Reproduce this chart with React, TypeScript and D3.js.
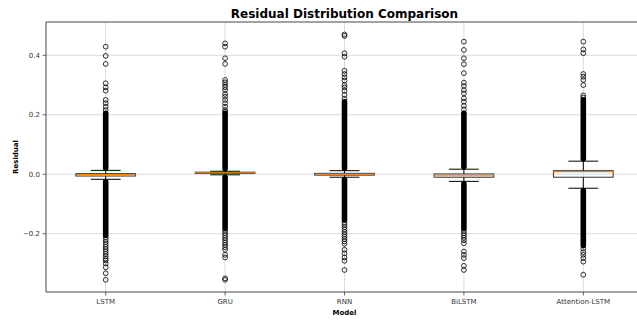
import React from "react";
import * as d3 from "d3";

const models = ["LSTM", "GRU", "RNN", "BiLSTM", "Attention-LSTM"];
const whiskerLow = [-0.017, -0.002, -0.010, -0.024, -0.047];
const q1 = [-0.006, 0.003, -0.003, -0.010, -0.010];
const median = [-0.001, 0.005, 0.000, -0.005, 0.009];
const q3 = [0.002, 0.007, 0.003, 0.001, 0.012];
const whiskerHigh = [0.013, 0.010, 0.012, 0.017, 0.044];

// continuous (overplotted) flier ranges
const denseUpperTop = [0.205, 0.205, 0.244, 0.205, 0.25];
const denseLowerBottom = [-0.205, -0.182, -0.154, -0.182, -0.24];

// individually visible fliers
const fliersLSTM = [0.429, 0.398, 0.371, 0.306, 0.292, 0.281, 0.250, 0.239, 0.227, 0.216,
  -0.212, -0.22, -0.228, -0.236, -0.244, -0.252, -0.26, -0.268, -0.276, -0.284, -0.29, -0.30, -0.313, -0.333, -0.355];
const fliersGRU = [0.440, 0.429, 0.390, 0.371, 0.317, 0.309, 0.300, 0.292, 0.283, 0.270, 0.261, 0.250, 0.239, 0.227, 0.216, 0.210,
  -0.19, -0.198, -0.206, -0.214, -0.222, -0.23, -0.238, -0.246, -0.254, -0.271, -0.280, -0.350, -0.355];
const fliersRNN = [0.470, 0.465, 0.407, 0.395, 0.348, 0.337, 0.326, 0.315, 0.300, 0.292, 0.281, 0.267, 0.253,
  -0.162, -0.17, -0.178, -0.186, -0.194, -0.202, -0.21, -0.218, -0.226, -0.234, -0.254, -0.266, -0.280, -0.291, -0.322];
const fliersBiLSTM = [0.446, 0.418, 0.390, 0.370, 0.340, 0.308, 0.297, 0.283, 0.272, 0.255, 0.244, 0.230, 0.218,
  -0.19, -0.198, -0.206, -0.214, -0.222, -0.232, -0.260, -0.271, -0.282, -0.308, -0.322];
const fliersAttention = [0.446, 0.420, 0.407, 0.337, 0.328, 0.317, 0.300, 0.265, 0.258,
  -0.25, -0.262, -0.271, -0.282, -0.294, -0.338];
const fliers = [fliersLSTM, fliersGRU, fliersRNN, fliersBiLSTM, fliersAttention];

const yTicks = [-0.2, 0.0, 0.2, 0.4];

const W = 637, H = 322;
const M = { left: 46, right: 643, top: 22, bottom: 292 };
const FONT = "'DejaVu Sans', sans-serif";

export default function App() {
  const x = d3.scaleLinear().domain([0.5, 5.5]).range([M.left, M.right]);
  const y = d3.scaleLinear().domain([-0.396, 0.512]).range([M.bottom, M.top]);
  const unit = x(1) - x(0);
  const boxW = unit * 0.5;
  const capW = boxW * 0.5;
  const r = 2.4;
  const sw = 0.8;

  return (
    <svg width={W} height={H} style={{ position: "absolute", left: 0, top: 0, background: "#fff" }}
      fontFamily={FONT}>
      <defs>
        <clipPath id="plot">
          <rect x={M.left} y={M.top} width={M.right - M.left} height={M.bottom - M.top} />
        </clipPath>
      </defs>
      {/* grid */}
      <g stroke="#dcdcdc" strokeWidth={1}>
        {yTicks.map((t) => (
          <line key={"gy" + t} x1={M.left} x2={M.right} y1={y(t)} y2={y(t)} />
        ))}
        {models.map((m, i) => (
          <line key={"gx" + m} x1={x(i + 1)} x2={x(i + 1)} y1={M.top} y2={M.bottom} />
        ))}
      </g>
      <g clipPath="url(#plot)">
        {models.map((m, i) => {
          const cx = x(i + 1);
          return (
            <g key={m}>
              {/* whiskers */}
              <line x1={cx} x2={cx} y1={y(q3[i])} y2={y(whiskerHigh[i])} stroke="#000" strokeWidth={1} />
              <line x1={cx} x2={cx} y1={y(q1[i])} y2={y(whiskerLow[i])} stroke="#000" strokeWidth={1} />
              {/* dense flier columns */}
              <line x1={cx} x2={cx} y1={y(whiskerHigh[i]) - r} y2={y(denseUpperTop[i])}
                stroke="#000" strokeWidth={2 * r + sw} strokeLinecap="round" />
              <line x1={cx} x2={cx} y1={y(whiskerLow[i]) + r} y2={y(denseLowerBottom[i])}
                stroke="#000" strokeWidth={2 * r + sw} strokeLinecap="round" />
              {fliers[i].map((v, j) => (
                <circle key={j} cx={cx} cy={y(v)} r={r} fill="none" stroke="#000" strokeWidth={sw} />
              ))}
              {/* caps */}
              <line x1={cx - capW / 2} x2={cx + capW / 2} y1={y(whiskerHigh[i])} y2={y(whiskerHigh[i])} stroke="#000" strokeWidth={1} />
              <line x1={cx - capW / 2} x2={cx + capW / 2} y1={y(whiskerLow[i])} y2={y(whiskerLow[i])} stroke="#000" strokeWidth={1} />
              {/* box */}
              <rect x={cx - boxW / 2} y={y(q3[i])} width={boxW} height={Math.max(0.5, y(q1[i]) - y(q3[i]))}
                fill="none" stroke="#333" strokeWidth={1} />
              <line x1={cx - boxW / 2} x2={cx + boxW / 2} y1={y(median[i])} y2={y(median[i])} stroke="#ff7f0e" strokeWidth={1.2} />
            </g>
          );
        })}
      </g>
      {/* spines */}
      <g stroke="#444" strokeWidth={1} fill="none">
        <line x1={M.left} x2={M.left} y1={M.top} y2={M.bottom} />
        <line x1={M.left} x2={M.right} y1={M.bottom} y2={M.bottom} />
        <line x1={M.left} x2={M.right} y1={M.top} y2={M.top} />
        <line x1={M.right} x2={M.right} y1={M.top} y2={M.bottom} />
      </g>
      {/* y ticks */}
      {yTicks.map((t) => (
        <g key={"yt" + t}>
          <line x1={M.left - 3.5} x2={M.left} y1={y(t)} y2={y(t)} stroke="#444" strokeWidth={0.8} />
          <text x={M.left - 6} y={y(t)} dy="0.35em" textAnchor="end" fontSize={7} fill="#333">
            {d3.format(".1f")(t).replace("-", "\u2212")}
          </text>
        </g>
      ))}
      {/* x ticks */}
      {models.map((m, i) => (
        <g key={"xt" + m}>
          <line x1={x(i + 1)} x2={x(i + 1)} y1={M.bottom} y2={M.bottom + 3.5} stroke="#444" strokeWidth={0.8} />
          <text x={x(i + 1)} y={M.bottom + 12} textAnchor="middle" fontSize={7} fill="#333">{m}</text>
        </g>
      ))}
      <text x={(M.left + M.right) / 2} y={18} textAnchor="middle" fontSize={12} fontWeight="bold" fill="#000">
        Residual Distribution Comparison
      </text>
      <text x={(M.left + M.right) / 2} y={315} textAnchor="middle" fontSize={7} fontWeight="bold" fill="#000">Model</text>
      <text transform={`translate(17.5, ${(M.top + M.bottom) / 2}) rotate(-90)`} textAnchor="middle"
        fontSize={7} fontWeight="bold" fill="#000">Residual</text>
    </svg>
  );
}
